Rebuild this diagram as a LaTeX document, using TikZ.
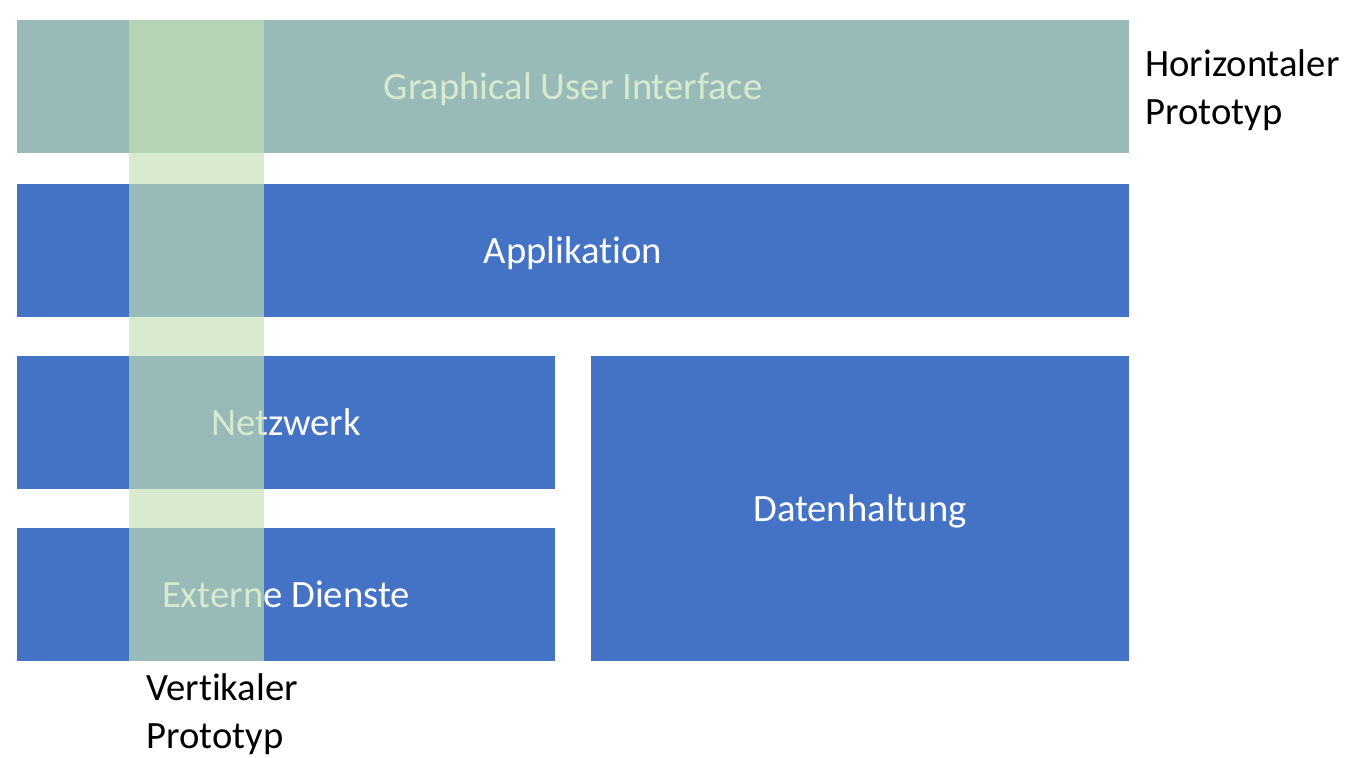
\documentclass[tikz,border=0pt]{standalone}
\usepackage{xcolor}
\usepackage{fontspec}
\setmainfont{Carlito}[Ligatures = NoCommon]
\usepackage{tikz}
\usetikzlibrary{positioning}
\definecolor{layerblue}{HTML}{4472C4}
\definecolor{protogreen}{HTML}{C5E0B4}
\tikzset{
layer/.style = { rectangle, draw = none, fill = layerblue, text = white, inner sep = 0pt, text depth = 0pt, font = \fontsize{22}{27}\selectfont },
prototype/.style = { rectangle, draw = none, fill = protogreen, fill opacity = 0.66, inner sep = 0pt },
caption/.style = { align = left, anchor = west, inner sep = 0pt, text = black, font = \fontsize{22}{27.5}\selectfont },
}

\begin{document}
\begin{tikzpicture}
    \useasboundingbox (0, 0) rectangle (27.2, -15.16);
    % layers
    \node[layer, minimum width = 22.24cm, minimum height = 2.66cm] (gui) at (11.46, -1.73) {Graphical User Interface};
    \node[layer, minimum width = 22.24cm, minimum height = 2.66cm] (app) at (11.46, -5.01) {Applikation};
    \node[layer, minimum width = 10.76cm, minimum height = 2.66cm] (net) at (5.72, -8.45) {Netzwerk};
    \node[layer, minimum width = 10.76cm, minimum height = 2.66cm] (ext) at (5.72, -11.89) {Externe Dienste};
    \node[layer, minimum width = 10.76cm, minimum height = 6.10cm] (data) at (17.2, -10.17) {Datenhaltung};
    % prototypes
    \node[prototype, minimum width = 22.24cm, minimum height = 2.66cm] (horizontal) at (11.46, -1.73) {};
    \node[prototype, minimum width = 2.70cm, minimum height = 12.82cm] (vertical) at (3.93, -6.81) {};
    \node[caption] (horizontal label) at (22.9, -1.80) {Horizontaler\\Prototyp};
    \node[caption] (vertical label) at (2.92, -14.29) {Vertikaler\\Prototyp};
\end{tikzpicture}
\end{document}
